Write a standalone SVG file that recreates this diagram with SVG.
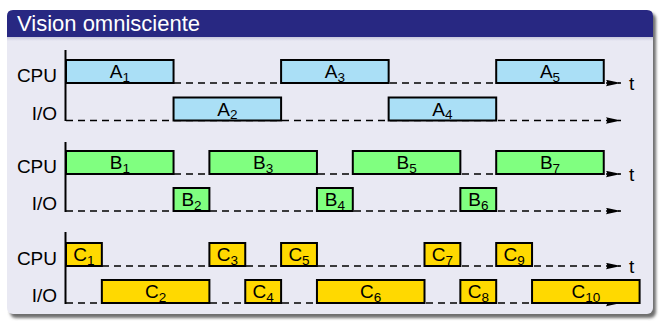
<svg xmlns="http://www.w3.org/2000/svg" width="659" height="321" viewBox="0 0 659 321">
<defs>
<filter id="sh" x="-5%" y="-5%" width="110%" height="110%"><feGaussianBlur stdDeviation="1.6"/></filter>
<linearGradient id="tb" x1="0" y1="0" x2="0" y2="1"><stop offset="0" stop-color="#c8c8dc"/><stop offset="1" stop-color="#e9e9f3"/></linearGradient>
<marker id="ah" viewBox="0 0 15 7" markerWidth="15" markerHeight="7" refX="15" refY="3.5" orient="auto" markerUnits="userSpaceOnUse"><path d="M0,0.3 L15,3.5 L0,6.7 Q2.5,3.5 0,0.3 Z" fill="#000"/></marker>
<style>
.lbl{font-family:"Liberation Sans",Arial,sans-serif;font-size:19px;fill:#000}
.sub{font-size:13.5px}
.ttl{font-family:"Liberation Sans",Arial,sans-serif;font-size:22px;fill:#fff}
.bx{stroke:#000;stroke-width:2}
.a{fill:#aadff6}
.b{fill:#80ff80}
.c{fill:#ffd900}
.ax{stroke:#000;stroke-width:2;fill:none}
.dl{stroke:#000;stroke-width:1.6;stroke-dasharray:7 5;fill:none;marker-end:url(#ah)}
</style>
</defs>
<rect x="10" y="13" width="646" height="305" rx="6" fill="#6e6e6e" filter="url(#sh)"/>
<rect x="7" y="10" width="646" height="304" rx="6" fill="#e9e9f3"/>
<path d="M7,37 V16 Q7,10 13,10 H647 Q653,10 653,16 V37 Z" fill="#282882"/>
<rect x="7" y="37" width="646" height="4" fill="url(#tb)"/>
<text class="ttl" x="17" y="31">Vision omnisciente</text>

<g id="axes-labels">
<text class="lbl" x="57" y="82" text-anchor="end">CPU</text>
<text class="lbl" x="57" y="120" text-anchor="end">I/O</text>
<text class="lbl" x="57" y="173" text-anchor="end">CPU</text>
<text class="lbl" x="57" y="210" text-anchor="end">I/O</text>
<text class="lbl" x="57" y="265" text-anchor="end">CPU</text>
<text class="lbl" x="57" y="302" text-anchor="end">I/O</text>
<text class="lbl" x="629" y="90">t</text>
<text class="lbl" x="629" y="181">t</text>
<text class="lbl" x="629" y="273">t</text>
</g>

<g id="connectors">
<path class="ax" d="M65.5,50 V121"/>
<path class="ax" d="M65.5,142 V212"/>
<path class="ax" d="M65.5,232 V304"/>
<path class="dl" d="M66,83 H621"/>
<path class="dl" d="M66,120.5 H621"/>
<path class="dl" d="M66,174 H621"/>
<path class="dl" d="M66,211 H621"/>
<path class="dl" d="M66,266 H621"/>
<path class="dl" d="M66,303 H621"/>
</g>

<g id="A1"><rect class="bx a" x="66" y="60" width="107.55" height="23"/><text class="lbl" x="119.8" y="78" text-anchor="middle">A<tspan class="sub" dy="3.5">1</tspan></text></g>
<g id="A2"><rect class="bx a" x="173.55" y="97.5" width="107.55" height="23"/><text class="lbl" x="227.3" y="115.5" text-anchor="middle">A<tspan class="sub" dy="3.5">2</tspan></text></g>
<g id="A3"><rect class="bx a" x="281.1" y="60" width="107.55" height="23"/><text class="lbl" x="334.9" y="78" text-anchor="middle">A<tspan class="sub" dy="3.5">3</tspan></text></g>
<g id="A4"><rect class="bx a" x="388.65" y="97.5" width="107.55" height="23"/><text class="lbl" x="442.4" y="115.5" text-anchor="middle">A<tspan class="sub" dy="3.5">4</tspan></text></g>
<g id="A5"><rect class="bx a" x="496.2" y="60" width="107.55" height="23"/><text class="lbl" x="550" y="78" text-anchor="middle">A<tspan class="sub" dy="3.5">5</tspan></text></g>

<g id="B1"><rect class="bx b" x="66" y="151" width="107.55" height="23"/><text class="lbl" x="119.8" y="169" text-anchor="middle">B<tspan class="sub" dy="3.5">1</tspan></text></g>
<g id="B2"><rect class="bx b" x="173.55" y="188" width="35.85" height="23"/><text class="lbl" x="191.5" y="206" text-anchor="middle">B<tspan class="sub" dy="3.5">2</tspan></text></g>
<g id="B3"><rect class="bx b" x="209.4" y="151" width="107.55" height="23"/><text class="lbl" x="263.2" y="169" text-anchor="middle">B<tspan class="sub" dy="3.5">3</tspan></text></g>
<g id="B4"><rect class="bx b" x="316.95" y="188" width="35.85" height="23"/><text class="lbl" x="334.9" y="206" text-anchor="middle">B<tspan class="sub" dy="3.5">4</tspan></text></g>
<g id="B5"><rect class="bx b" x="352.8" y="151" width="107.55" height="23"/><text class="lbl" x="406.6" y="169" text-anchor="middle">B<tspan class="sub" dy="3.5">5</tspan></text></g>
<g id="B6"><rect class="bx b" x="460.35" y="188" width="35.85" height="23"/><text class="lbl" x="478.3" y="206" text-anchor="middle">B<tspan class="sub" dy="3.5">6</tspan></text></g>
<g id="B7"><rect class="bx b" x="496.2" y="151" width="107.55" height="23"/><text class="lbl" x="550" y="169" text-anchor="middle">B<tspan class="sub" dy="3.5">7</tspan></text></g>

<g id="C1"><rect class="bx c" x="66" y="243" width="35.85" height="23"/><text class="lbl" x="83.9" y="261" text-anchor="middle">C<tspan class="sub" dy="3.5">1</tspan></text></g>
<g id="C2"><rect class="bx c" x="101.85" y="280" width="107.55" height="23"/><text class="lbl" x="155.6" y="298" text-anchor="middle">C<tspan class="sub" dy="3.5">2</tspan></text></g>
<g id="C3"><rect class="bx c" x="209.4" y="243" width="35.85" height="23"/><text class="lbl" x="227.3" y="261" text-anchor="middle">C<tspan class="sub" dy="3.5">3</tspan></text></g>
<g id="C4"><rect class="bx c" x="245.25" y="280" width="35.85" height="23"/><text class="lbl" x="263.2" y="298" text-anchor="middle">C<tspan class="sub" dy="3.5">4</tspan></text></g>
<g id="C5"><rect class="bx c" x="281.1" y="243" width="35.85" height="23"/><text class="lbl" x="299" y="261" text-anchor="middle">C<tspan class="sub" dy="3.5">5</tspan></text></g>
<g id="C6"><rect class="bx c" x="316.95" y="280" width="107.55" height="23"/><text class="lbl" x="370.7" y="298" text-anchor="middle">C<tspan class="sub" dy="3.5">6</tspan></text></g>
<g id="C7"><rect class="bx c" x="424.5" y="243" width="35.85" height="23"/><text class="lbl" x="442.4" y="261" text-anchor="middle">C<tspan class="sub" dy="3.5">7</tspan></text></g>
<g id="C8"><rect class="bx c" x="460.35" y="280" width="35.85" height="23"/><text class="lbl" x="478.3" y="298" text-anchor="middle">C<tspan class="sub" dy="3.5">8</tspan></text></g>
<g id="C9"><rect class="bx c" x="496.2" y="243" width="35.85" height="23"/><text class="lbl" x="514.1" y="261" text-anchor="middle">C<tspan class="sub" dy="3.5">9</tspan></text></g>
<g id="C10"><rect class="bx c" x="532.05" y="280" width="107.55" height="23"/><text class="lbl" x="585.8" y="298" text-anchor="middle">C<tspan class="sub" dy="3.5">10</tspan></text></g>
</svg>
